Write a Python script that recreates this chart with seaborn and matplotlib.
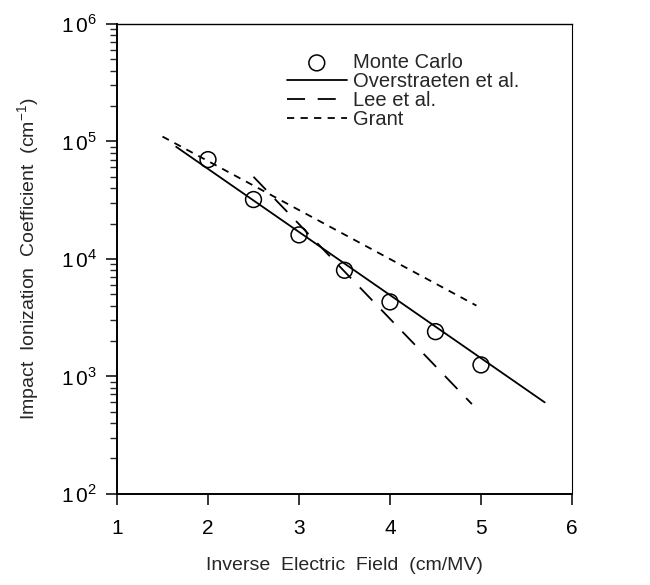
import numpy as np
import pandas as pd
import matplotlib
matplotlib.use("Agg")
import matplotlib.pyplot as plt
import seaborn as sns

# -------------------------
# Datos
# -------------------------
# Monte Carlo (puntos)
mc_x = [2.0, 2.5, 3.0, 3.5, 4.0, 4.5, 5.0]
mc_y = [7.0e4, 3.2e4, 1.6e4, 8.0e3, 4.3e3, 2.4e3, 1.25e3]

# Overstraeten et al. (extremos de la recta en escala log)
ov_x = [1.65, 5.7]
ov_y = [9.0e4, 6.0e2]

# Lee et al.
lee_x = [2.5, 4.9]
lee_y = [5.0e4, 5.8e2]

# Grant
gr_x = [1.5, 4.95]
gr_y = [1.1e5, 4.0e3]

x_ticks = [1, 2, 3, 4, 5, 6]
y_ticks = [1e2, 1e3, 1e4, 1e5, 1e6]

sns.set_style("ticks")
plt.rcParams['font.family'] = ['Liberation Sans', 'DejaVu Sans']
plt.rcParams['mathtext.fontset'] = 'custom'
plt.rcParams['mathtext.rm'] = 'Liberation Sans'

fig = plt.figure(figsize=(6.5, 5.85), dpi=100)
ax = fig.add_axes([0.18, 0.156, 0.70, 0.803])

df_ov = pd.DataFrame({"x": ov_x, "y": ov_y})
df_lee = pd.DataFrame({"x": lee_x, "y": lee_y})
df_gr = pd.DataFrame({"x": gr_x, "y": gr_y})
df_mc = pd.DataFrame({"x": mc_x, "y": mc_y})

sns.scatterplot(data=df_mc, x="x", y="y", ax=ax, marker="o", s=130,
                facecolor="none", edgecolor="black", linewidth=1.1,
                label="Monte Carlo", zorder=3)
sns.lineplot(data=df_ov, x="x", y="y", ax=ax, color="black", lw=1.3,
             label="Overstraeten et al.")
sns.lineplot(data=df_lee, x="x", y="y", ax=ax, color="black", lw=1.3,
             label="Lee et al.").lines[-1].set_dashes([10, 7])
sns.lineplot(data=df_gr, x="x", y="y", ax=ax, color="black", lw=1.3,
             label="Grant").lines[-1].set_dashes([4, 3.5])

ax.set_yscale("log")
ax.set_xlim(1, 6)
ax.set_ylim(1e2, 1e6)
ax.set_xticks(x_ticks)
ax.set_xticklabels([str(t) for t in x_ticks])
ax.set_yticks(y_ticks)
ax.set_yticklabels([r"$1\,0^{%d}$" % int(np.log10(t)) for t in y_ticks])

for s in ax.spines.values():
    s.set_color("black")
    s.set_linewidth(1.4)
ax.spines["right"].set_linewidth(0.8)
ax.spines["top"].set_linewidth(1.0)

ax.tick_params(axis="both", which="major", direction="out", length=8,
               width=1.1, colors="black", labelsize=15, pad=6)
ax.tick_params(axis="x", which="major", pad=10)
ax.tick_params(axis="y", which="minor", direction="out", length=5, width=1.0)
ax.tick_params(axis="x", which="minor", bottom=False)

ax.set_xlabel("Inverse  Electric  Field  (cm/MV)", fontsize=14, labelpad=14)
ax.set_ylabel("Impact  Ionization  Coefficient  (cm$^{-1}$)", fontsize=14,
              labelpad=14)

leg = ax.legend(loc="upper left", bbox_to_anchor=(0.355, 0.955), frameon=False,
                fontsize=14.5, handlelength=3.0, handletextpad=0.3,
                labelspacing=0.0, borderaxespad=0.0)
for h in leg.legend_handles:
    try:
        h.set_edgecolor("black")
        h.set_facecolor("none")
    except AttributeError:
        h.set_color("black")

fig.savefig("out.png", dpi=100, facecolor="white")
